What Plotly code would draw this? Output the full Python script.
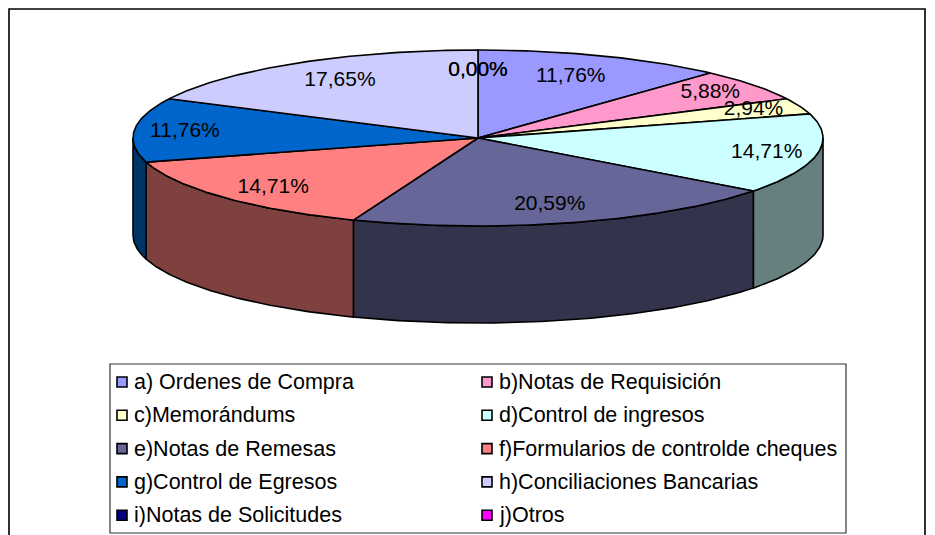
import numpy as np
import plotly.graph_objects as go

# ---- data -------------------------------------------------------------
categories = [
    "a) Ordenes de Compra",
    "b)Notas de Requisición",
    "c)Memorándums",
    "d)Control de ingresos",
    "e)Notas de Remesas",
    "f)Formularios de controlde cheques",
    "g)Control de Egresos",
    "h)Conciliaciones Bancarias",
    "i)Notas de Solicitudes",
    "j)Otros",
]
counts = [4, 2, 1, 5, 7, 5, 4, 6, 0, 0]
colors = ["#9999FF", "#FF99CC", "#FFFFCC", "#CCFFFF", "#666699",
          "#FF8080", "#0066CC", "#CCCCFF", "#000080", "#FF00FF"]

# ---- geometry of the tilted pie (pixel space) -------------------------
W, H = 935, 535
CX, CY = 478, 138          # centre of the top face
RX, RY = 345, 88           # semi-axes of the top ellipse
DEPTH = 97                 # thickness of the disc
LABEL_R = 0.76             # label distance as a fraction of the radius
# small placement tweaks for crowded labels (dx, dy in px)
label_nudge = {0: (-2, 1), 1: (23, -5), 2: (31, -4), 3: (31, 2),
               4: (0, 2), 5: (-11, 5), 6: (-32, 0)}

EDGE = dict(color="black", width=1.6)
FONT = "Liberation Sans, Arial, sans-serif"


def darker(hex_color, k=0.5):
    h = hex_color.lstrip("#")
    r, g, b = (int(h[i:i + 2], 16) for i in (0, 2, 4))
    return "#%02X%02X%02X" % (int(r * k), int(g * k), int(b * k))


def arc(t1, t2, dy=0.0, n=None):
    """Points on the ellipse between angles t1..t2 (deg, clockwise from top)."""
    n = n or max(2, int(abs(t2 - t1) * 1.5) + 2)
    t = np.radians(np.linspace(t1, t2, n))
    return CX + RX * np.sin(t), CY - RY * np.cos(t) + dy


total = float(sum(counts))
pcts = [100.0 * c / total for c in counts]
bounds = np.concatenate([[0.0], np.cumsum(pcts)]) * 3.6   # degrees

fig = go.Figure()

# side walls (only the front half of the disc is visible: 90..270 deg)
for i, c in enumerate(counts):
    if c == 0:
        continue
    s1, s2 = max(bounds[i], 90.0), min(bounds[i + 1], 270.0)
    if s2 <= s1:
        continue
    xt, yt = arc(s1, s2)
    xb, yb = arc(s2, s1, dy=DEPTH)
    fig.add_trace(go.Scatter(
        x=np.concatenate([xt, xb, xt[:1]]),
        y=np.concatenate([yt, yb, yt[:1]]),
        mode="lines", fill="toself", fillcolor=darker(colors[i]),
        line=EDGE, hoverinfo="skip", showlegend=False))

# top faces
for i, c in enumerate(counts):
    if c == 0:
        continue
    xa, ya = arc(bounds[i], bounds[i + 1])
    fig.add_trace(go.Scatter(
        x=np.concatenate([[CX], xa, [CX]]),
        y=np.concatenate([[CY], ya, [CY]]),
        mode="lines", fill="toself", fillcolor=colors[i],
        line=EDGE, name=categories[i], hoverinfo="skip", showlegend=False))

# percentage labels
lx, ly, lt = [], [], []
for i, p in enumerate(pcts):
    mid = np.radians((bounds[i] + bounds[i + 1]) / 2.0)
    dx, dy = label_nudge.get(i, (0, 0))
    lx.append(CX + LABEL_R * RX * np.sin(mid) + dx)
    ly.append(CY - LABEL_R * RY * np.cos(mid) + dy)
    lt.append(f"{p:.2f}%".replace(".", ","))
fig.add_trace(go.Scatter(
    x=lx, y=ly, text=lt, mode="text",
    textfont=dict(family=FONT, size=21, color="black"),
    textposition="middle center", hoverinfo="skip", showlegend=False))

# ---- legend (two columns, filled row by row) --------------------------
LEG_X0, LEG_X1, LEG_Y0, LEG_Y1 = 110, 846, 364, 533
COL_X = [122, 487]
ROW_Y0, ROW_DY = 382, 33.3
mx, my = [], []
for i, name in enumerate(categories):
    col, row = i % 2, i // 2
    x = COL_X[col]
    y = ROW_Y0 + row * ROW_DY
    mx.append(x)
    my.append(y)
    fig.add_annotation(x=x + 10, y=y, text=name, showarrow=False,
                       xanchor="left", yanchor="middle",
                       font=dict(family=FONT, size=21.5, color="black"))
fig.add_trace(go.Scatter(
    x=mx, y=my, mode="markers",
    marker=dict(symbol="square", size=10, color=colors,
                line=dict(color="black", width=1.6)),
    hoverinfo="skip", showlegend=False))

fig.add_shape(type="rect", x0=LEG_X0, x1=LEG_X1, y0=LEG_Y0, y1=LEG_Y1,
              line=dict(color="#333333", width=1.2), layer="below")
# outer chart frame
fig.add_shape(type="rect", x0=9, x1=925, y0=9, y1=H + 20,
              line=dict(color="black", width=1.6), layer="below")

fig.update_layout(
    width=W, height=H,
    margin=dict(l=0, r=0, t=0, b=0),
    paper_bgcolor="white", plot_bgcolor="white",
    xaxis=dict(range=[0, W], visible=False, fixedrange=True),
    yaxis=dict(range=[H, 0], visible=False, fixedrange=True),
    showlegend=False,
)

fig.write_html("out.html")
